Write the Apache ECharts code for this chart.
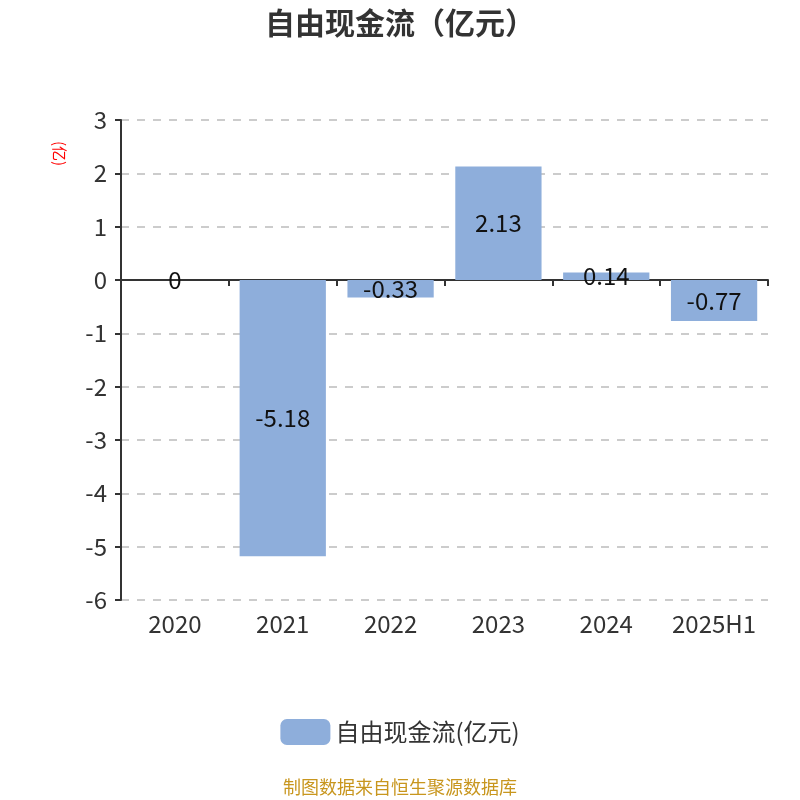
<!DOCTYPE html>
<html>
<head>
<meta charset="utf-8">
<script src="https://cdn.jsdelivr.net/npm/echarts@6/dist/echarts.min.js"></script>
<style>
  html, body { margin: 0; padding: 0; background: #fff; }
  #main { width: 800px; height: 800px; }
</style>
</head>
<body>
<div id="main"></div>
<script>
var years = ['2020', '2021', '2022', '2023', '2024', '2025H1'];
var cashFlow = [0, -5.18, -0.33, 2.13, 0.14, -0.77];
var seriesName = '自由现金流(亿元)';

var font = '"Noto Sans CJK SC", "Noto Sans", sans-serif';
var myChart = echarts.init(document.getElementById('main'));

var option = {
  backgroundColor: '#fff',
  textStyle: { fontFamily: font },
  title: {
    text: '自由现金流（亿元）',
    left: 'center',
    top: 3,
    textStyle: { fontSize: 30, fontWeight: 'bold', color: '#333', fontFamily: font }
  },
  grid: { left: 121, right: 32, top: 120, bottom: 200 },
  legend: {
    bottom: 50,
    left: 'center',
    itemWidth: 50,
    itemHeight: 26,
    itemGap: 10,
    textStyle: { fontSize: 24, color: '#333', fontFamily: font },
    data: [seriesName]
  },
  graphic: [
    {
      type: 'text',
      left: 'center',
      top: 778,
      style: { text: '制图数据来自恒生聚源数据库', fill: '#c8961e', fontSize: 18, fontFamily: font }
    },
    {
      type: 'text',
      x: 67,
      y: 141,
      rotation: -Math.PI / 2,
      style: { text: '(亿)', fill: '#ff0000', fontSize: 15, fontFamily: font }
    }
  ],
  xAxis: [
    {
      type: 'category',
      data: years,
      axisLine: { onZero: true, lineStyle: { color: '#333', width: 2 } },
      axisTick: { show: true, length: 6, lineStyle: { color: '#333', width: 2 } },
      axisLabel: { show: false }
    },
    {
      type: 'category',
      data: years,
      position: 'bottom',
      axisLine: { show: false },
      axisTick: { show: false },
      axisLabel: { interval: 0, fontSize: 24, color: '#333', margin: 12, fontFamily: font }
    }
  ],
  yAxis: {
    type: 'value',
    min: -6,
    max: 3,
    interval: 1,
    axisLine: { show: true, lineStyle: { color: '#333', width: 2 } },
    axisTick: { show: true, length: 6, lineStyle: { color: '#333', width: 2 } },
    axisLabel: { fontSize: 24, color: '#333', margin: 14, fontFamily: font },
    splitLine: { show: true, lineStyle: { type: [8, 8], color: '#ccc', width: 2 } }
  },
  series: [
    {
      name: seriesName,
      type: 'bar',
      data: cashFlow,
      barWidth: '80%',
      itemStyle: { color: '#8eaedb' },
      label: {
        show: true,
        position: 'inside',
        fontSize: 24,
        color: '#111',
        fontFamily: font
      }
    }
  ]
};
myChart.setOption(option);
</script>
</body>
</html>
